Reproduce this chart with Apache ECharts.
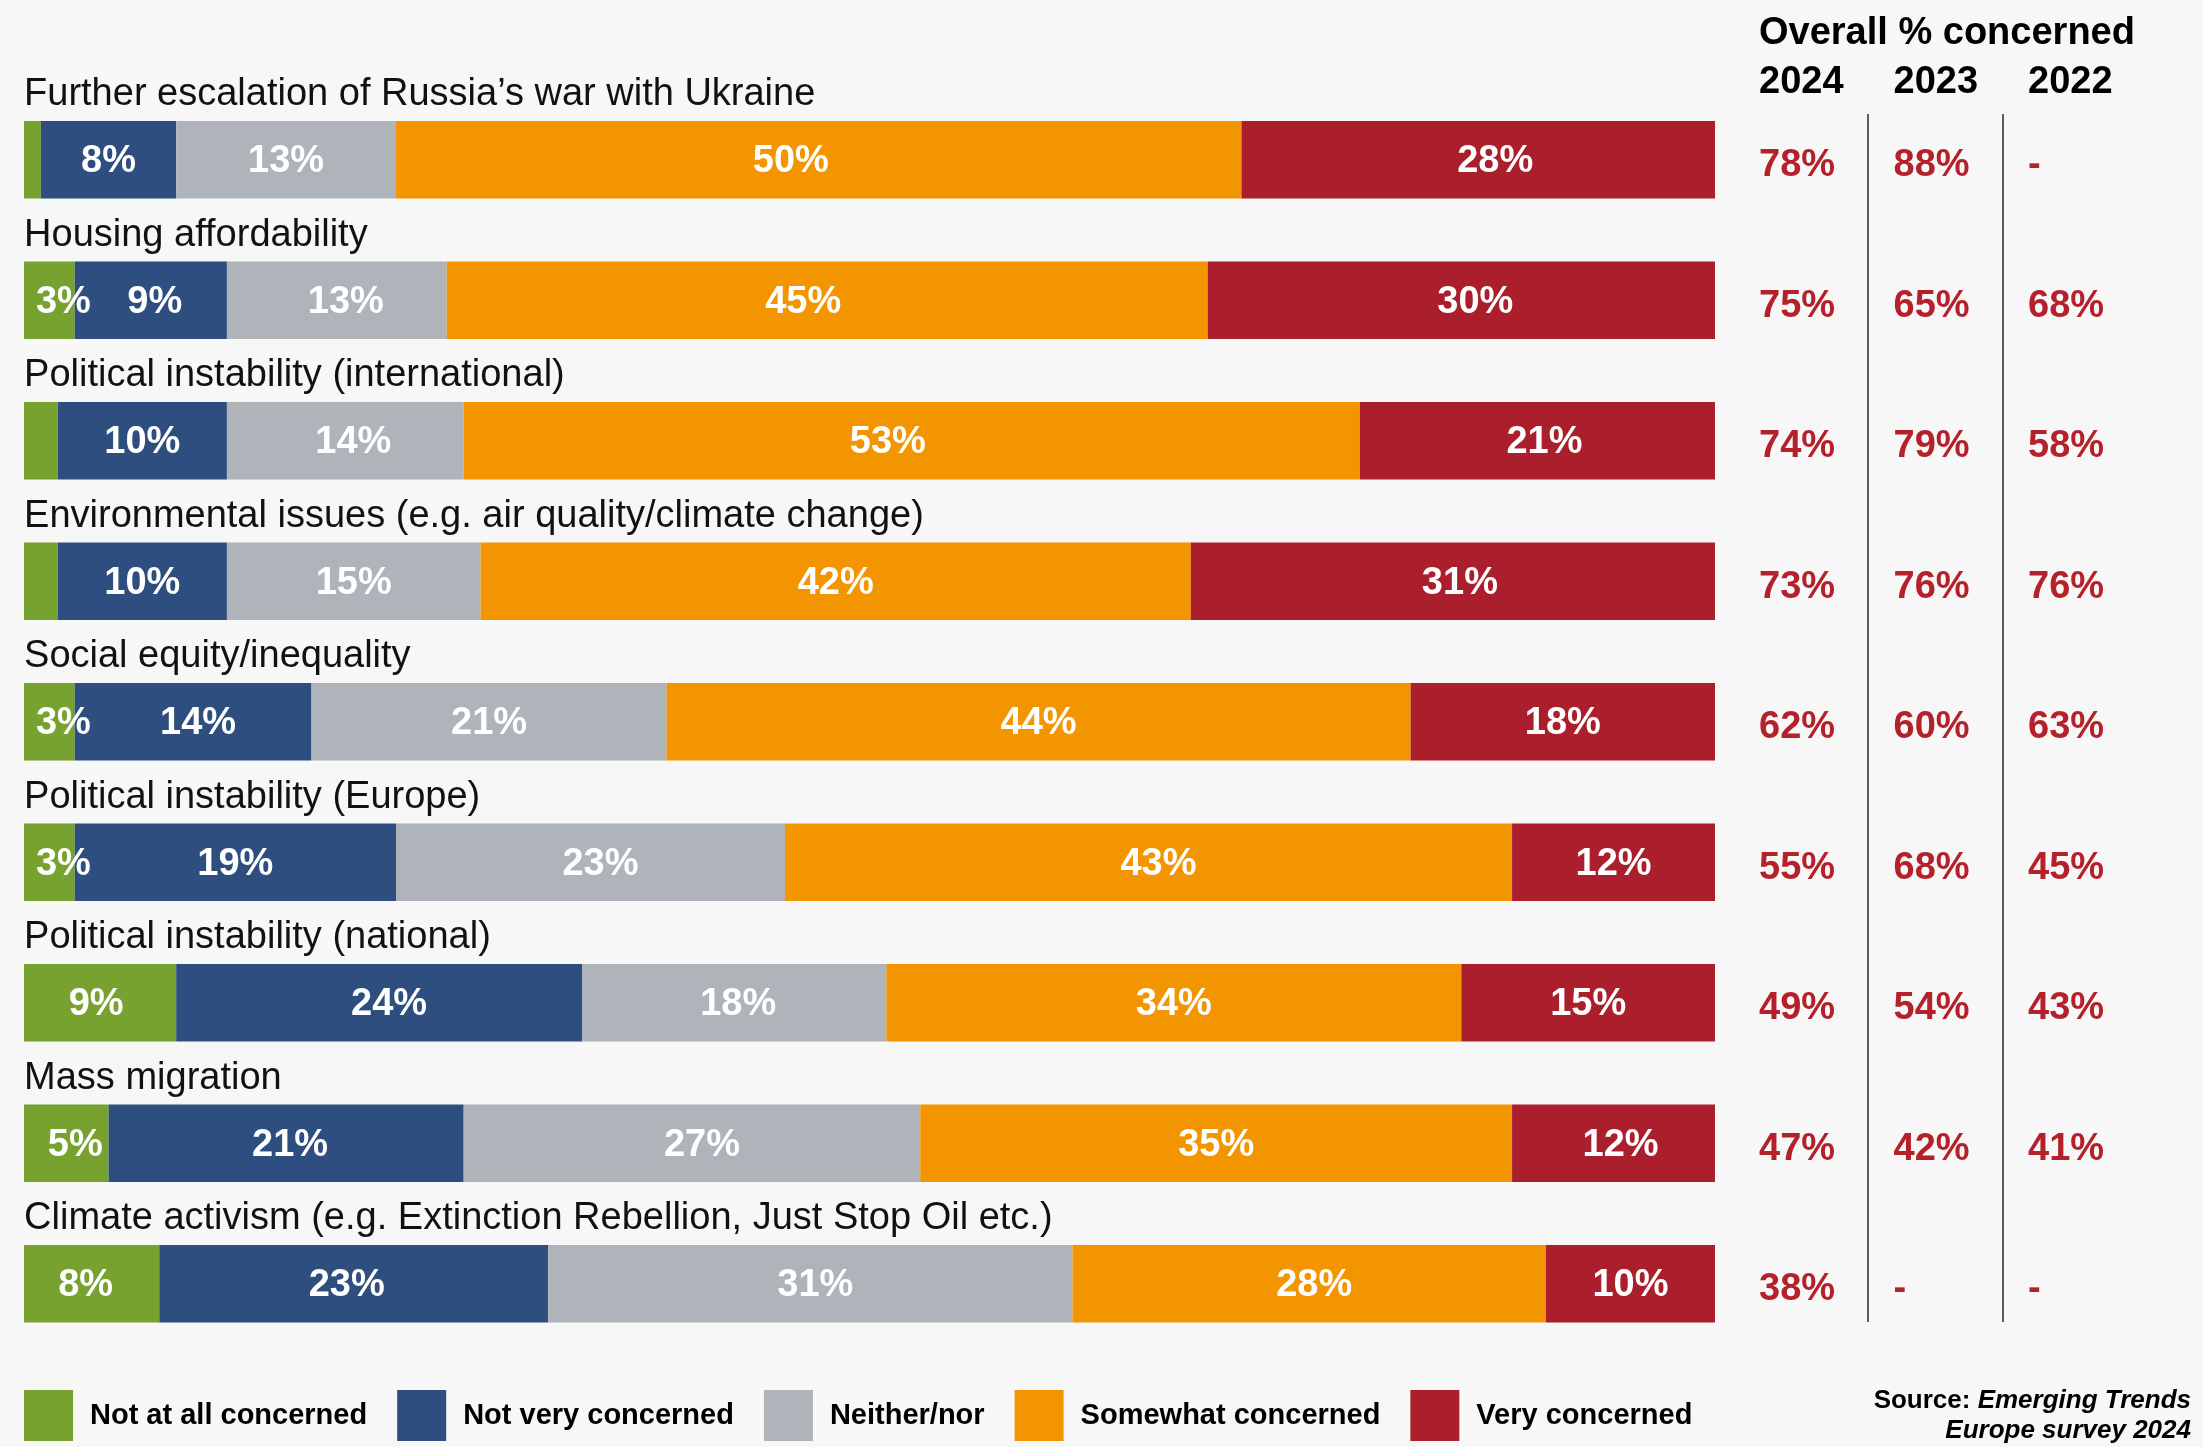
<!DOCTYPE html>
<html>
<head>
<meta charset="utf-8">
<script src="https://cdn.jsdelivr.net/npm/echarts@6/dist/echarts.min.js"></script>
<style>
html,body{margin:0;padding:0;background:#f7f7f7;}
#chart{width:2203px;height:1447px;}
</style>
</head>
<body>
<div id="chart"></div>
<script>
const categories = [
  'Further escalation of Russia\u2019s war with Ukraine',
  'Housing affordability',
  'Political instability (international)',
  'Environmental issues (e.g. air quality/climate change)',
  'Social equity/inequality',
  'Political instability (Europe)',
  'Political instability (national)',
  'Mass migration',
  'Climate activism (e.g. Extinction Rebellion, Just Stop Oil etc.)'
];
const seriesNames = ['Not at all concerned', 'Not very concerned', 'Neither/nor', 'Somewhat concerned', 'Very concerned'];
const notAtAll  = [1, 3, 2, 2, 3, 3, 9, 5, 8];
const notVery   = [8, 9, 10, 10, 14, 19, 24, 21, 23];
const neither   = [13, 13, 14, 15, 21, 23, 18, 27, 31];
const somewhat  = [50, 45, 53, 42, 44, 43, 34, 35, 28];
const very      = [28, 30, 21, 31, 18, 12, 15, 12, 10];
const yearLabels = ['2024', '2023', '2022'];
const overall2024 = [78, 75, 74, 73, 62, 55, 49, 47, 38];
const overall2023 = [88, 65, 79, 76, 60, 68, 54, 42, null];
const overall2022 = [null, 68, 58, 76, 63, 45, 43, 41, null];

// Style only: horizontal nudges (px) of segment labels, [row][segment], as placed in the original
const labelNudge = [
  [0, 0, 0, -28, 17],
  [14, 4, 9, -24, 14],
  [0, 0, 8, -24, 7],
  [0, 0, 0, 0, 7],
  [14, 5, 0, 0, 0],
  [14, 0, 10, 10, 0],
  [-4, 10, 4, 0, 0],
  [9, 4, 10, 0, 7],
  [-6, -7, 5, 5, 0]
];

const colors = ['#78A22F', '#2D4E7E', '#AEB4BA', '#F39500', '#AB1E2C'];
const FONT = '"Liberation Sans", Arial, Helvetica, sans-serif';
const valueRed = '#B5212B';

const stacks = [notAtAll, notVery, neither, somewhat, very];

const barSeries = stacks.map((arr, si) => ({
  name: seriesNames[si],
  type: 'bar',
  stack: 'total',
  xAxisIndex: 0,
  yAxisIndex: 0,
  barWidth: 77.5,
  itemStyle: { color: colors[si] },
  label: {
    show: true,
    position: 'inside',
    color: '#fff',
    fontFamily: FONT,
    fontWeight: 'bold',
    fontSize: 38,
    formatter: p => (p.value >= 3 ? p.value + '%' : '')
  },
  emphasis: { disabled: true },
  data: arr.map((v, i) => ({ value: v, label: { offset: [labelNudge[i][si], 2] } }))
}));

const tableCols = [overall2024, overall2023, overall2022];
const tableData = [];
tableCols.forEach((col, k) => {
  col.forEach((v, i) => {
    tableData.push([k, i, v == null ? '-' : v + '%']);
  });
});

const chart = echarts.init(document.getElementById('chart'), null, { renderer: 'canvas' });
chart.setOption({
  backgroundColor: '#f7f7f7',
  animation: false,
  title: [
    {
      text: 'Overall % concerned',
      left: 1759,
      top: 11.5,
      padding: 0,
      textStyle: { fontFamily: FONT, fontWeight: 'bold', fontSize: 38, lineHeight: 44, color: '#000' }
    },
    {
      text: '{b|Source: }{bi|Emerging Trends}\n{bi|Europe survey 2024}',
      left: 2191,
      top: 1386,
      padding: 0,
      textAlign: 'right',
      textStyle: {
        fontFamily: FONT, fontSize: 26, lineHeight: 30, color: '#000',
        rich: {
          b: { fontFamily: FONT, fontSize: 26, lineHeight: 30, fontWeight: 'bold', color: '#000' },
          bi: { fontFamily: FONT, fontSize: 26, lineHeight: 30, fontWeight: 'bold', fontStyle: 'italic', color: '#000' }
        }
      }
    }
  ],
  legend: {
    data: seriesNames,
    left: 24,
    top: 1390,
    padding: 0,
    icon: 'rect',
    itemWidth: 49,
    itemHeight: 51,
    itemGap: 30,
    selectedMode: false,
    textStyle: { fontFamily: FONT, fontWeight: 'bold', fontSize: 29, color: '#000', padding: [0, 0, 0, 12] }
  },
  grid: [
    { left: 24, right: 488, top: 89.5, height: 1264.5 },
    { left: 1759, right: 175, top: 89.5, height: 1264.5 },
    { left: 1868, width: 135, top: 114, height: 1208 }
  ],
  xAxis: [
    { gridIndex: 0, type: 'value', min: 0, max: 100, show: false },
    {
      gridIndex: 1, type: 'category', data: yearLabels, boundaryGap: false, position: 'top',
      axisLine: { show: false }, axisTick: { show: false }, splitLine: { show: false },
      axisLabel: { interval: 0, align: 'left', verticalAlign: 'middle', margin: 7, fontFamily: FONT, fontWeight: 'bold', fontSize: 38, color: '#000' }
    },
    {
      gridIndex: 2, type: 'value', min: 0, max: 1, interval: 1,
      axisLine: { show: false }, axisTick: { show: false }, axisLabel: { show: false },
      splitLine: { show: true, lineStyle: { color: '#2a2a2a', width: 1.5 } }
    }
  ],
  yAxis: [
    {
      gridIndex: 0, type: 'category', inverse: true, data: categories,
      axisLine: { show: false }, axisTick: { show: false }, splitLine: { show: false },
      axisLabel: { show: false }
    },
    { gridIndex: 1, type: 'category', inverse: true, data: categories, show: false },
    { gridIndex: 2, type: 'value', min: 0, max: 1, show: false }
  ],
  series: barSeries.concat([
    {
      // category names written above each bar
      type: 'scatter',
      xAxisIndex: 0,
      yAxisIndex: 0,
      symbolSize: 0.1,
      itemStyle: { color: 'rgba(0,0,0,0)', opacity: 1 },
      silent: true,
      z: 5,
      label: {
        show: true,
        position: 'right',
        distance: 0,
        offset: [0, -65],
        fontFamily: FONT, fontSize: 38, color: '#111',
        formatter: p => categories[p.dataIndex]
      },
      data: categories.map((c, i) => [0, i])
    },
    {
      type: 'scatter',
      xAxisIndex: 1,
      yAxisIndex: 1,
      symbolSize: 0.1,
      itemStyle: { color: 'rgba(0,0,0,0)', opacity: 1 },
      silent: true,
      label: {
        show: true,
        position: 'right',
        distance: 0,
        offset: [0, 6],
        fontFamily: FONT, fontWeight: 'bold', fontSize: 38, color: valueRed,
        formatter: p => p.data[2]
      },
      data: tableData
    },
    {
      type: 'scatter',
      xAxisIndex: 2,
      yAxisIndex: 2,
      silent: true,
      data: []
    }
  ])
});
</script>
</body>
</html>
